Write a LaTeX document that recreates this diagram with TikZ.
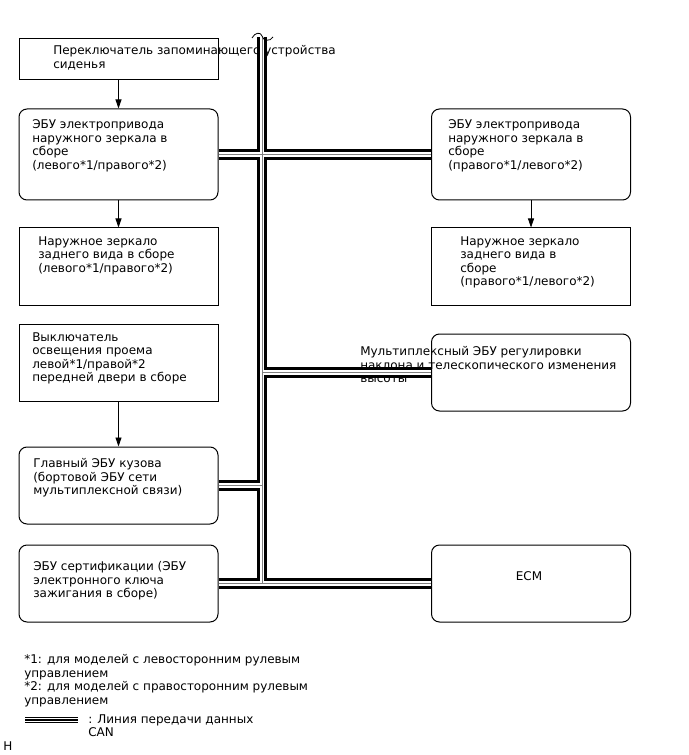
\documentclass[tikz,border=0pt]{standalone}
\usepackage{fontspec}
\setmainfont{DejaVu Sans}
\usetikzlibrary{arrows.meta,positioning,calc}

\begin{document}
\begin{tikzpicture}[x=0.75pt,y=-0.75pt,
  unit/.style={draw,line width=0.75pt,minimum width=149.25pt,minimum height=57.75pt,inner sep=0pt},
  ecu/.style={unit,rounded corners=6pt},
  lbl/.style={anchor=north west,inner sep=0pt,align=left,font=\fontsize{9}{10.1}\selectfont},
  arr/.style={-{Triangle[length=6.75pt,width=4.5pt]},line width=0.6pt}]
  \useasboundingbox (0,0) rectangle (688,755);
  \node[unit,minimum height=30.75pt] (seatsw) at (118.5,59.5) {};
  \node[ecu,minimum height=68.25pt] (lecu) at (118.5,154.5) {};
  \node[unit] (lmir) at (118.5,266.5) {};
  \node[unit] (door) at (118.5,362.5) {};
  \node[ecu] (body) at (118.5,485.5) {};
  \node[ecu] (cert) at (118.5,583.5) {};
  \node[ecu,minimum height=68.25pt] (recu) at (531,154.5) {};
  \node[unit] (rmir) at (531,266.5) {};
  \node[ecu] (mplx) at (531,372.5) {};
  \node[ecu] (ecm) at (531,583.5) {};
  \coordinate (bustop) at (262,37);
  \coordinate (busend) at (cert.east -| bustop);
  \foreach \lw/\lc in {7.8pt/black,3.4pt/white,0.6pt/gray}
    \draw[line width=\lw,\lc] (bustop) -- (busend) (lecu.east) -- (recu.west)
      (mplx.west) -- (mplx.west -| bustop) (body.east) -- (body.east -| bustop)
      (cert.east) -- (ecm.west);
  \draw[line width=0.6pt] (252,38) .. controls (255,32) and (261,32) .. (262,36)
    .. controls (263,41) and (270,42) .. (273,37);
  \draw[arr] (seatsw) -- (lecu);
  \draw[arr] (lecu) -- (lmir);
  \draw[arr] (door) -- (body);
  \draw[arr] (recu) -- (rmir);
  \node[lbl] (seatswt) at (53,45.5) {Переключатель запоминающего устройства\\сиденья};
  \node[lbl] (lecut) at (32,119.5) {ЭБУ электропривода\\наружного зеркала в\\сборе\\(левого*1/правого*2)};
  \node[lbl] (lmirt) at (38,236.5) {Наружное зеркало\\заднего вида в сборе\\(левого*1/правого*2)};
  \node[lbl] (doort) at (32,332.5) {Выключатель\\освещения проема\\левой*1/правой*2\\передней двери в сборе};
  \node[lbl] (bodyt) at (33,458.5) {Главный ЭБУ кузова\\(бортовой ЭБУ сети\\мультиплексной связи)};
  \node[lbl] (certt) at (33,561.5) {ЭБУ сертификации (ЭБУ\\электронного ключа\\зажигания в сборе)};
  \node[lbl] (recut) at (448,119.5) {ЭБУ электропривода\\наружного зеркала в\\сборе\\(правого*1/левого*2)};
  \node[lbl] (rmirt) at (460,236.5) {Наружное зеркало\\заднего вида в\\сборе\\(правого*1/левого*2)};
  \node[lbl] (mplxt) at (360,346.5) {Мультиплексный ЭБУ регулировки\\наклона и телескопического изменения\\высоты};
  \node[lbl,anchor=center] (ecmt) at (529,576) {ECM};
  \node[lbl] (notes) at (24,654.5) {*1: для моделей с левосторонним рулевым\\управлением\\*2: для моделей с правосторонним рулевым\\управлением};
  \coordinate (cana) at (25,720);
  \coordinate (canb) at (78,720);
  \foreach \lw/\lc in {5.2pt/black,2.8pt/white,1.2pt/black}
    \draw[line width=\lw,\lc] (cana) -- (canb);
  \node[lbl] (cant) at (88,714.5) {: Линия передачи данных\\CAN};
  \node[lbl] (corner) at (3,741.5) {H};
\end{tikzpicture}
\end{document}
